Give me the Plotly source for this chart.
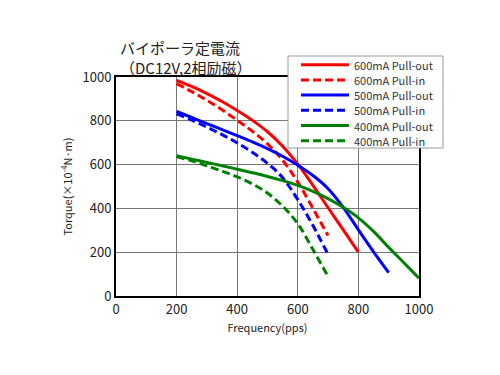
import plotly.graph_objects as go

freq_600_out = [200, 250, 300, 350, 400, 450, 500, 550, 600, 650, 700, 750, 800]
torque_600_out = [985, 957, 924, 888, 847, 802, 750, 684, 602, 505, 403, 302, 200]
freq_600_in = [200, 250, 300, 350, 400, 450, 500, 550, 600, 650, 700]
torque_600_in = [970, 933, 894, 850, 802, 752, 695, 620, 520, 400, 276]
freq_500_out = [200, 250, 300, 350, 400, 450, 500, 550, 600, 650, 700, 750, 800, 850, 900]
torque_500_out = [843, 815, 787, 760, 732, 704, 673, 638, 597, 550, 490, 405, 302, 202, 107]
freq_500_in = [200, 250, 300, 350, 400, 450, 500, 550, 600, 650, 700]
torque_500_in = [832, 803, 771, 737, 699, 656, 606, 540, 440, 322, 189]
freq_400_out = [200, 250, 300, 350, 400, 450, 500, 550, 600, 650, 700, 750, 800, 850, 900, 950, 1000]
torque_400_out = [640, 625, 610, 595, 579, 563, 546, 527, 505, 478, 445, 405, 357, 295, 222, 152, 81]
freq_400_in = [200, 250, 300, 350, 400, 450, 500, 550, 600, 650, 700]
torque_400_in = [637, 617, 594, 570, 544, 512, 470, 410, 330, 212, 89]

DASH = "8px,4px"
series = [
    ("600mA Pull-out", freq_600_out, torque_600_out, "#ff0000", "solid"),
    ("600mA Pull-in", freq_600_in, torque_600_in, "#ff0000", DASH),
    ("500mA Pull-out", freq_500_out, torque_500_out, "#0000ff", "solid"),
    ("500mA Pull-in", freq_500_in, torque_500_in, "#0000ff", DASH),
    ("400mA Pull-out", freq_400_out, torque_400_out, "#008000", "solid"),
    ("400mA Pull-in", freq_400_in, torque_400_in, "#008000", DASH),
]

font_jp = "Noto Sans CJK JP"
L, R, T, B = 116, 81, 77, 79
pw, ph = 500 - L - R, 375 - T - B


def px(x):
    return (x - L) / pw


def py(y):
    return (375 - B - y) / ph


fig = go.Figure()
shapes = [dict(type="rect", xref="paper", yref="paper",
               x0=px(288), x1=px(443), y0=py(56), y1=py(148),
               fillcolor="white", line=dict(color="#999", width=1), layer="above")]
annotations = [
    dict(text="バイポーラ定電流<br>（DC12V,2相励磁）",
         x=px(118), y=py(57.5), xref="paper", yref="paper",
         xanchor="left", yanchor="middle", align="left",
         showarrow=False, font=dict(size=15, family=font_jp, color="#222")),
]
for i, (name, x, y, c, d) in enumerate(series):
    fig.add_trace(go.Scatter(x=x, y=y, name=name, mode="lines", showlegend=False,
                             line=dict(color=c, width=3, dash=d, shape="spline", smoothing=1.0)))
    ly = 64.7 + i * 15.2
    shapes.append(dict(type="line", xref="paper", yref="paper",
                       x0=px(301), x1=px(349), y0=py(ly), y1=py(ly),
                       line=dict(color=c, width=3, dash=d), layer="above"))
    annotations.append(dict(text=name, x=px(352), y=py(ly), xref="paper", yref="paper",
                            xanchor="left", yanchor="middle", showarrow=False,
                            font=dict(size=11, family=font_jp, color="#333")))

fig.update_layout(
    width=500, height=375,
    margin=dict(l=L, r=R, t=T, b=B),
    paper_bgcolor="white", plot_bgcolor="white",
    font=dict(family=font_jp, color="#222"),
    showlegend=False,
    xaxis=dict(range=[0, 1000], tickvals=[0, 200, 400, 600, 800, 1000],
               showgrid=True, gridcolor="#777", gridwidth=1,
               showline=True, linecolor="black", linewidth=2, mirror=True,
               zeroline=False, ticks="", tickfont=dict(size=13),
               title=dict(text="Frequency(pps)", font=dict(size=11), standoff=8)),
    yaxis=dict(range=[0, 1000], tickvals=[0, 200, 400, 600, 800, 1000],
               showgrid=True, gridcolor="#777", gridwidth=1,
               showline=True, linecolor="black", linewidth=2, mirror=True,
               zeroline=False, ticks="", tickfont=dict(size=13),
               title=dict(text="Torque(×10<sup>-4</sup>N·m)", font=dict(size=11), standoff=8)),
    shapes=shapes,
    annotations=annotations,
)
fig.write_html("out.html")
